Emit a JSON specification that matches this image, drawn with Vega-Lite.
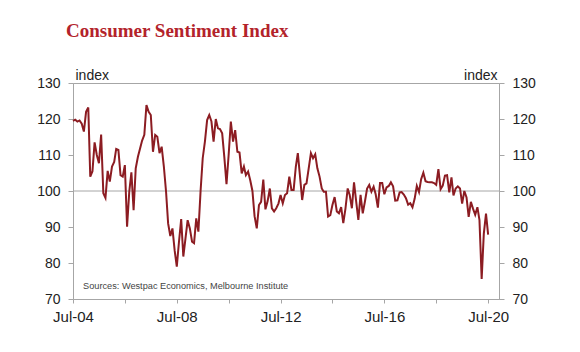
{
  "$schema": "https://vega.github.io/schema/vega-lite/v6.json",
  "width": 426,
  "height": 216,
  "autosize": "none",
  "padding": {"left": 73, "top": 83, "right": 81, "bottom": 53},
  "background": "white",
  "config": {
    "view": {"stroke": "#a6a6a6"},
    "axis": {
      "domainColor": "#a6a6a6",
      "tickColor": "#a6a6a6",
      "labelColor": "#222222",
      "labelFont": "Liberation Sans",
      "grid": false,
      "tickSize": 5,
      "labelPadding": 8
    }
  },
  "title": {
    "text": "Consumer Sentiment Index",
    "anchor": "start",
    "frame": "group",
    "font": "Liberation Serif",
    "fontSize": 19,
    "fontWeight": "bold",
    "color": "#b3232b",
    "dx": -7,
    "offset": 12,
    "baseline": "alphabetic"
  },
  "datasets": {
    "csi": [
      {"d": "2004-07-01", "v": 119.5}, {"d": "2004-08-01", "v": 119.8}, {"d": "2004-09-01", "v": 119.3}, {"d": "2004-10-01", "v": 119.6}, {"d": "2004-11-01", "v": 118.7}, {"d": "2004-12-01", "v": 116.5},
      {"d": "2005-01-01", "v": 122.0}, {"d": "2005-02-01", "v": 123.2}, {"d": "2005-03-01", "v": 104.0}, {"d": "2005-04-01", "v": 105.5}, {"d": "2005-05-01", "v": 113.5}, {"d": "2005-06-01", "v": 110.0}, {"d": "2005-07-01", "v": 107.7}, {"d": "2005-08-01", "v": 115.7}, {"d": "2005-09-01", "v": 99.4}, {"d": "2005-10-01", "v": 98.1}, {"d": "2005-11-01", "v": 105.6}, {"d": "2005-12-01", "v": 102.6},
      {"d": "2006-01-01", "v": 106.8}, {"d": "2006-02-01", "v": 108.1}, {"d": "2006-03-01", "v": 111.7}, {"d": "2006-04-01", "v": 111.4}, {"d": "2006-05-01", "v": 104.4}, {"d": "2006-06-01", "v": 104.0}, {"d": "2006-07-01", "v": 107.2}, {"d": "2006-08-01", "v": 90.1}, {"d": "2006-09-01", "v": 99.8}, {"d": "2006-10-01", "v": 105.2}, {"d": "2006-11-01", "v": 94.7}, {"d": "2006-12-01", "v": 106.3},
      {"d": "2007-01-01", "v": 109.5}, {"d": "2007-02-01", "v": 111.9}, {"d": "2007-03-01", "v": 114.0}, {"d": "2007-04-01", "v": 115.6}, {"d": "2007-05-01", "v": 123.9}, {"d": "2007-06-01", "v": 122.0}, {"d": "2007-07-01", "v": 121.1}, {"d": "2007-08-01", "v": 110.9}, {"d": "2007-09-01", "v": 115.6}, {"d": "2007-10-01", "v": 115.1}, {"d": "2007-11-01", "v": 110.5}, {"d": "2007-12-01", "v": 112.3},
      {"d": "2008-01-01", "v": 106.8}, {"d": "2008-02-01", "v": 99.8}, {"d": "2008-03-01", "v": 91.0}, {"d": "2008-04-01", "v": 87.5}, {"d": "2008-05-01", "v": 89.6}, {"d": "2008-06-01", "v": 83.5}, {"d": "2008-07-01", "v": 79.0}, {"d": "2008-08-01", "v": 85.9}, {"d": "2008-09-01", "v": 92.2}, {"d": "2008-10-01", "v": 81.8}, {"d": "2008-11-01", "v": 86.9}, {"d": "2008-12-01", "v": 91.9},
      {"d": "2009-01-01", "v": 89.6}, {"d": "2009-02-01", "v": 85.9}, {"d": "2009-03-01", "v": 85.5}, {"d": "2009-04-01", "v": 92.4}, {"d": "2009-05-01", "v": 88.7}, {"d": "2009-06-01", "v": 100.0}, {"d": "2009-07-01", "v": 109.1}, {"d": "2009-08-01", "v": 113.7}, {"d": "2009-09-01", "v": 119.7}, {"d": "2009-10-01", "v": 121.1}, {"d": "2009-11-01", "v": 119.3}, {"d": "2009-12-01", "v": 113.7},
      {"d": "2010-01-01", "v": 120.0}, {"d": "2010-02-01", "v": 117.4}, {"d": "2010-03-01", "v": 117.2}, {"d": "2010-04-01", "v": 116.0}, {"d": "2010-05-01", "v": 109.5}, {"d": "2010-06-01", "v": 101.9}, {"d": "2010-07-01", "v": 110.0}, {"d": "2010-08-01", "v": 119.3}, {"d": "2010-09-01", "v": 113.7}, {"d": "2010-10-01", "v": 116.9}, {"d": "2010-11-01", "v": 110.9}, {"d": "2010-12-01", "v": 110.7},
      {"d": "2011-01-01", "v": 104.9}, {"d": "2011-02-01", "v": 106.8}, {"d": "2011-03-01", "v": 104.4}, {"d": "2011-04-01", "v": 105.4}, {"d": "2011-05-01", "v": 103.0}, {"d": "2011-06-01", "v": 100.0}, {"d": "2011-07-01", "v": 93.0}, {"d": "2011-08-01", "v": 89.6}, {"d": "2011-09-01", "v": 96.1}, {"d": "2011-10-01", "v": 97.0}, {"d": "2011-11-01", "v": 103.2}, {"d": "2011-12-01", "v": 94.9},
      {"d": "2012-01-01", "v": 97.2}, {"d": "2012-02-01", "v": 100.7}, {"d": "2012-03-01", "v": 95.2}, {"d": "2012-04-01", "v": 94.3}, {"d": "2012-05-01", "v": 95.2}, {"d": "2012-06-01", "v": 96.5}, {"d": "2012-07-01", "v": 98.9}, {"d": "2012-08-01", "v": 96.6}, {"d": "2012-09-01", "v": 98.9}, {"d": "2012-10-01", "v": 99.4}, {"d": "2012-11-01", "v": 104.0}, {"d": "2012-12-01", "v": 100.3},
      {"d": "2013-01-01", "v": 100.3}, {"d": "2013-02-01", "v": 106.8}, {"d": "2013-03-01", "v": 110.5}, {"d": "2013-04-01", "v": 104.0}, {"d": "2013-05-01", "v": 97.5}, {"d": "2013-06-01", "v": 101.7}, {"d": "2013-07-01", "v": 102.1}, {"d": "2013-08-01", "v": 106.3}, {"d": "2013-09-01", "v": 110.5}, {"d": "2013-10-01", "v": 109.1}, {"d": "2013-11-01", "v": 110.2}, {"d": "2013-12-01", "v": 106.3},
      {"d": "2014-01-01", "v": 104.0}, {"d": "2014-02-01", "v": 100.7}, {"d": "2014-03-01", "v": 99.8}, {"d": "2014-04-01", "v": 99.8}, {"d": "2014-05-01", "v": 92.9}, {"d": "2014-06-01", "v": 93.3}, {"d": "2014-07-01", "v": 96.1}, {"d": "2014-08-01", "v": 98.3}, {"d": "2014-09-01", "v": 94.3}, {"d": "2014-10-01", "v": 93.8}, {"d": "2014-11-01", "v": 95.5}, {"d": "2014-12-01", "v": 91.1},
      {"d": "2015-01-01", "v": 95.2}, {"d": "2015-02-01", "v": 100.7}, {"d": "2015-03-01", "v": 98.9}, {"d": "2015-04-01", "v": 95.2}, {"d": "2015-05-01", "v": 102.4}, {"d": "2015-06-01", "v": 97.0}, {"d": "2015-07-01", "v": 92.0}, {"d": "2015-08-01", "v": 98.9}, {"d": "2015-09-01", "v": 93.8}, {"d": "2015-10-01", "v": 97.0}, {"d": "2015-11-01", "v": 100.7}, {"d": "2015-12-01", "v": 101.7},
      {"d": "2016-01-01", "v": 99.8}, {"d": "2016-02-01", "v": 101.2}, {"d": "2016-03-01", "v": 99.1}, {"d": "2016-04-01", "v": 95.4}, {"d": "2016-05-01", "v": 102.2}, {"d": "2016-06-01", "v": 102.2}, {"d": "2016-07-01", "v": 99.1}, {"d": "2016-08-01", "v": 101.0}, {"d": "2016-09-01", "v": 101.4}, {"d": "2016-10-01", "v": 102.4}, {"d": "2016-11-01", "v": 101.3}, {"d": "2016-12-01", "v": 97.3},
      {"d": "2017-01-01", "v": 97.4}, {"d": "2017-02-01", "v": 99.6}, {"d": "2017-03-01", "v": 99.7}, {"d": "2017-04-01", "v": 99.0}, {"d": "2017-05-01", "v": 98.0}, {"d": "2017-06-01", "v": 96.2}, {"d": "2017-07-01", "v": 96.6}, {"d": "2017-08-01", "v": 95.5}, {"d": "2017-09-01", "v": 97.9}, {"d": "2017-10-01", "v": 101.4}, {"d": "2017-11-01", "v": 99.7}, {"d": "2017-12-01", "v": 103.3},
      {"d": "2018-01-01", "v": 105.1}, {"d": "2018-02-01", "v": 102.7}, {"d": "2018-03-01", "v": 102.5}, {"d": "2018-04-01", "v": 102.4}, {"d": "2018-05-01", "v": 102.4}, {"d": "2018-06-01", "v": 102.2}, {"d": "2018-07-01", "v": 101.7}, {"d": "2018-08-01", "v": 106.1}, {"d": "2018-09-01", "v": 100.5}, {"d": "2018-10-01", "v": 101.5}, {"d": "2018-11-01", "v": 104.3}, {"d": "2018-12-01", "v": 104.4},
      {"d": "2019-01-01", "v": 99.6}, {"d": "2019-02-01", "v": 103.8}, {"d": "2019-03-01", "v": 98.8}, {"d": "2019-04-01", "v": 100.7}, {"d": "2019-05-01", "v": 101.3}, {"d": "2019-06-01", "v": 100.7}, {"d": "2019-07-01", "v": 96.5}, {"d": "2019-08-01", "v": 100.0}, {"d": "2019-09-01", "v": 98.2}, {"d": "2019-10-01", "v": 92.8}, {"d": "2019-11-01", "v": 97.0}, {"d": "2019-12-01", "v": 95.1},
      {"d": "2020-01-01", "v": 93.4}, {"d": "2020-02-01", "v": 95.5}, {"d": "2020-03-01", "v": 91.9}, {"d": "2020-04-01", "v": 75.6}, {"d": "2020-05-01", "v": 88.1}, {"d": "2020-06-01", "v": 93.7}, {"d": "2020-07-01", "v": 87.9}
    ]
  },
  "layer": [
    {
      "data": {"values": [{"g": 100}]},
      "mark": {"type": "rule", "color": "#a6a6a6", "strokeWidth": 1},
      "encoding": {
        "y": {
          "field": "g",
          "type": "quantitative",
          "scale": {"domain": [70, 130], "nice": false, "zero": false},
          "axis": {
            "orient": "right",
            "values": [70, 80, 90, 100, 110, 120, 130],
            "labelFontSize": 14,
            "title": "index",
            "titleAngle": 0,
            "titleAlign": "right",
            "titleBaseline": "alphabetic",
            "titleX": -2,
            "titleY": -4,
            "titleFont": "Liberation Sans",
            "titleFontSize": 14,
            "titleFontWeight": "normal",
            "titleColor": "#222222"
          }
        }
      }
    },
    {
      "data": {"name": "csi"},
      "mark": {"type": "line", "color": "#8c1c22", "strokeWidth": 2},
      "encoding": {
        "x": {
          "field": "d",
          "type": "temporal",
          "scale": {
            "type": "utc",
            "domain": [
              {"year": 2004, "month": 7, "date": 1, "utc": true},
              {"year": 2020, "month": 12, "date": 1, "utc": true}
            ]
          },
          "axis": {
            "title": null,
            "values": [
              {"year": 2004, "month": 7, "date": 1, "utc": true},
              {"year": 2006, "month": 7, "date": 1, "utc": true},
              {"year": 2008, "month": 7, "date": 1, "utc": true},
              {"year": 2010, "month": 7, "date": 1, "utc": true},
              {"year": 2012, "month": 7, "date": 1, "utc": true},
              {"year": 2014, "month": 7, "date": 1, "utc": true},
              {"year": 2016, "month": 7, "date": 1, "utc": true},
              {"year": 2018, "month": 7, "date": 1, "utc": true},
              {"year": 2020, "month": 7, "date": 1, "utc": true}
            ],
            "labelExpr": "utcyear(datum.value) % 4 == 0 ? utcFormat(datum.value, '%b-%y') : ''",
            "labelFontSize": 15,
            "labelOverlap": false,
            "labelFlush": false,
            "tickSize": 4,
            "labelPadding": 6
          }
        },
        "y": {
          "field": "v",
          "type": "quantitative",
          "scale": {"domain": [70, 130], "nice": false, "zero": false},
          "axis": {
            "orient": "left",
            "values": [70, 80, 90, 100, 110, 120, 130],
            "labelFontSize": 14,
            "title": "index",
            "titleAngle": 0,
            "titleAlign": "left",
            "titleBaseline": "alphabetic",
            "titleX": 2,
            "titleY": -4,
            "titleFont": "Liberation Sans",
            "titleFontSize": 14,
            "titleFontWeight": "normal",
            "titleColor": "#222222"
          }
        }
      }
    },
    {
      "data": {"values": [{"s": "Sources: Westpac Economics, Melbourne Institute"}]},
      "mark": {"type": "text", "align": "left", "baseline": "middle", "fontSize": 9.2, "font": "Liberation Sans", "color": "#444444"},
      "encoding": {
        "text": {"field": "s"},
        "x": {"datum": {"year": 2004, "month": 11, "date": 20, "utc": true}, "type": "temporal"},
        "y": {"datum": 73.6, "type": "quantitative", "scale": {"domain": [70, 130], "nice": false, "zero": false}, "axis": null}
      }
    }
  ],
  "resolve": {"scale": {"y": "independent"}}
}
